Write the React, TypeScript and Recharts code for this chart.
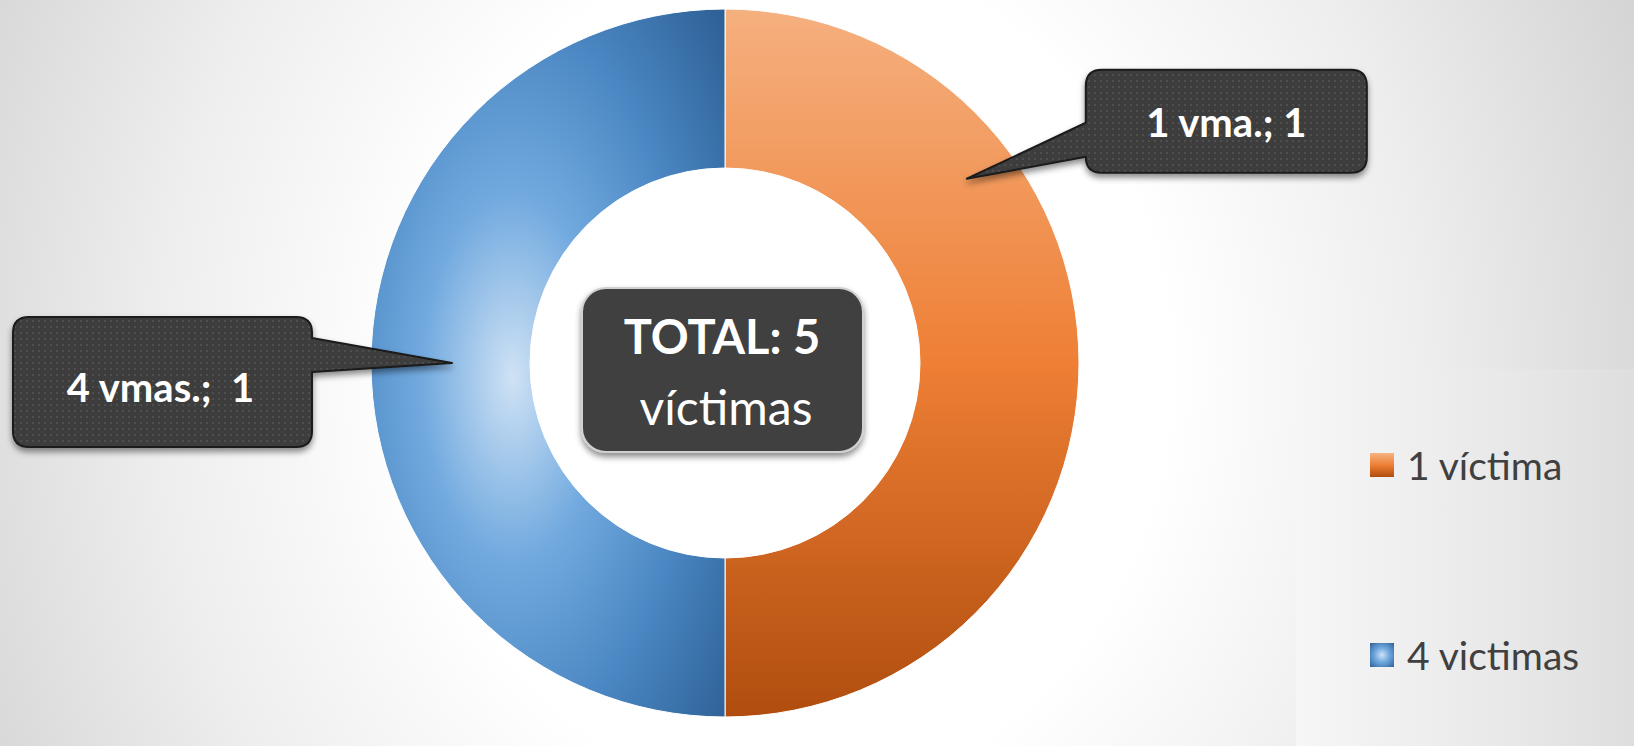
import React from 'react';
import { PieChart, Pie, Cell, Legend } from 'recharts';

// categories and values (both slices are equal)
const categories = ['1 víctima', '4 victimas'];
const values = [1, 1];
const calloutLabels = ['1 vma.; 1', '4 vmas.;  1'];
const totalLines = ['TOTAL: 5', 'víctimas'];

const chartData = categories.map((name, i) => ({ name, value: values[i] }));

const fills = ['url(#orangeGrad)', 'url(#blueGrad)'];
const legendSwatch = [
  'linear-gradient(to bottom, #f5b383 0%, #ee7f35 50%, #b04d0e 100%)',
  'radial-gradient(circle at 50% 50%, #cfe2f5 0%, #6da6dd 45%, #2e6096 100%)',
];

const FONT = 'Lato, "Open Sans", sans-serif';
const RADIAN = Math.PI / 180;

// callout layout, relative to the tip that touches the ring
const calloutLayout = [
  { angleOffset: 37.3, tipR: 304, dx: 119, dy: -109, w: 281, h: 103, side: 'left', pA: -56, pB: -22, textShift: 0, textDy: 1 },
  { angleOffset: 0, tipR: 273, dx: -439, dy: -46, w: 299, h: 130, side: 'right', pA: -25, pB: 9, textShift: -2, textDy: 5 },
];

function calloutPath(x0: number, y0: number, w: number, h: number, r: number, side: string, pA: number, pB: number, tx: number, ty: number) {
  const x1 = x0 + w;
  const y1 = y0 + h;
  if (side === 'left') {
    return `M${x0 + r},${y0} H${x1 - r} Q${x1},${y0} ${x1},${y0 + r} V${y1 - r} Q${x1},${y1} ${x1 - r},${y1} H${x0 + r} Q${x0},${y1} ${x0},${y1 - r} V${pB} L${tx},${ty} L${x0},${pA} V${y0 + r} Q${x0},${y0} ${x0 + r},${y0} Z`;
  }
  return `M${x0 + r},${y0} H${x1 - r} Q${x1},${y0} ${x1},${y0 + r} V${pA} L${tx},${ty} L${x1},${pB} V${y1 - r} Q${x1},${y1} ${x1 - r},${y1} H${x0 + r} Q${x0},${y1} ${x0},${y1 - r} V${y0 + r} Q${x0},${y0} ${x0 + r},${y0} Z`;
}

const renderCallout = (props: any) => {
  const { cx, cy, midAngle, index } = props;
  const c = calloutLayout[index];
  const a = (midAngle + c.angleOffset) * RADIAN;
  const tx = cx + c.tipR * Math.cos(-a);
  const ty = cy + c.tipR * Math.sin(-a);
  const x0 = tx + c.dx;
  const y0 = ty + c.dy;
  const d = calloutPath(x0, y0, c.w, c.h, 16, c.side, ty + c.pA, ty + c.pB, tx, ty);
  return (
    <g key={`callout-${index}`}>
      <path d={d} fill="url(#dots)" stroke="#1a1a1a" strokeWidth={2} strokeLinejoin="round" filter="url(#shadow)" />
      <text
        x={x0 + c.w / 2 + c.textShift}
        y={y0 + c.h / 2 + c.textDy}
        textAnchor="middle"
        dominantBaseline="central"
        fill="#ffffff"
        fontFamily={FONT}
        fontWeight={700}
        fontSize={40}
        style={{ whiteSpace: 'pre' }}
      >
        {calloutLabels[index]}
      </text>
    </g>
  );
};

function CenterBox() {
  const cx = 725;
  const cy = 363;
  return (
    <g>
      <rect x={cx - 143} y={cy - 75} width={281} height={164} rx={24} fill="#404040" stroke="#d0d0d0" strokeWidth={2} filter="url(#shadow)" />
      <text x={cx - 3} y={cy - 9} textAnchor="middle" fill="#ffffff" fontFamily={FONT} fontWeight={700} fontSize={47}>
        {totalLines[0]}
      </text>
      <text x={cx + 1} y={cy + 62} textAnchor="middle" fill="#ffffff" fontFamily={FONT} fontWeight={400} fontSize={48}>
        {totalLines[1]}
      </text>
    </g>
  );
}

const renderLegend = () => (
  <div style={{ fontFamily: FONT }}>
    {categories.map((name, i) => (
      <div key={name} style={{ display: 'flex', alignItems: 'center', height: 24, marginBottom: i === 0 ? 166 : 0 }}>
        <div style={{ width: 24, height: 24, background: legendSwatch[i], marginRight: 13 }} />
        <span style={{ fontSize: 39, color: '#404040', lineHeight: 1, whiteSpace: 'nowrap' }}>{name}</span>
      </div>
    ))}
  </div>
);

export default function App() {
  return (
    <div
      style={{
        position: 'absolute',
        left: 0,
        top: 0,
        width: 1634,
        height: 746,
        overflow: 'hidden',
        background: 'radial-gradient(ellipse 900px 1000px at 790px 373px, #ffffff 0%, #ffffff 42%, #eeeeee 70%, #d5d5d5 100%)',
      }}
    >
      <div
        style={{
          position: 'absolute',
          left: 1296,
          top: 369,
          width: 338,
          height: 377,
          background: 'linear-gradient(to right, #f6f6f6 0%, #e9e9e9 60%, #dedede 100%)',
        }}
      />
      <PieChart width={1634} height={746} margin={{ top: 0, right: 0, bottom: 0, left: 0 }} style={{ position: 'absolute', left: 0, top: 0 }}>
        <defs>
          <linearGradient id="orangeGrad" x1="0" y1="0" x2="0" y2="1">
            <stop offset="0%" stopColor="#f5b07f" />
            <stop offset="50%" stopColor="#ee7f35" />
            <stop offset="100%" stopColor="#b04d0e" />
          </linearGradient>
          <radialGradient id="blueGrad" cx="0.4" cy="0.52" r="0.85" fx="0.4" fy="0.52">
            <stop offset="0%" stopColor="#cfe2f5" />
            <stop offset="30%" stopColor="#72aadf" />
            <stop offset="60%" stopColor="#4a86c2" />
            <stop offset="95%" stopColor="#2b5d92" />
          </radialGradient>
          <pattern id="dots" width="6" height="6" patternUnits="userSpaceOnUse">
            <rect width="6" height="6" fill="#3e3e3e" />
            <rect x="2" y="2" width="2" height="2" fill="#4f4f4f" />
          </pattern>
          <filter id="shadow" x="-20%" y="-20%" width="140%" height="160%">
            <feDropShadow dx="0" dy="4" stdDeviation="3" floodColor="#000000" floodOpacity="0.45" />
          </filter>
        </defs>
        <Pie
          data={chartData}
          dataKey="value"
          nameKey="name"
          cx={725}
          cy={363}
          innerRadius={195}
          outerRadius={354}
          startAngle={90}
          endAngle={-270}
          stroke="#ffffff"
          strokeWidth={1}
          label={renderCallout}
          labelLine={false}
          isAnimationActive={false}
        >
          {chartData.map((entry, i) => (
            <Cell key={entry.name} fill={fills[i]} />
          ))}
        </Pie>
        <CenterBox />
        <Legend
          content={renderLegend}
          wrapperStyle={{ position: 'absolute', left: 1370, top: 453, width: 260 }}
        />
      </PieChart>
    </div>
  );
}
